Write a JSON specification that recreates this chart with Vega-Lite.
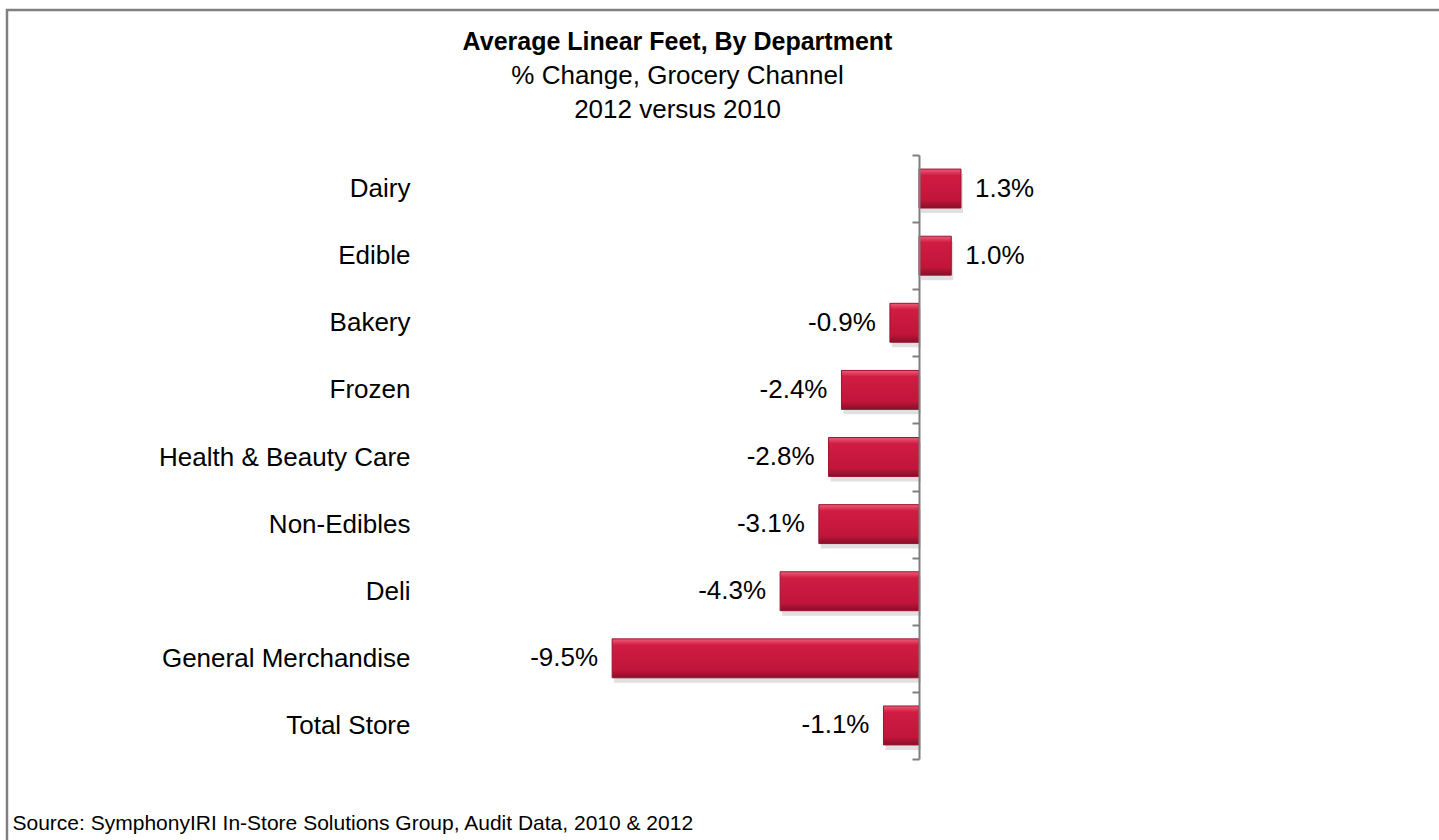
{
  "$schema": "https://vega.github.io/schema/vega-lite/v6.json",
  "width": 1445,
  "height": 845,
  "autosize": {"type": "none"},
  "padding": {"left": 7, "top": 10, "right": 0, "bottom": 0},
  "background": "white",
  "config": {
    "font": "Liberation Sans",
    "view": {"stroke": "#808080", "strokeWidth": 2.5},
    "locale": {"number": {"decimal": ".", "thousands": ",", "grouping": [3], "currency": ["$", ""], "minus": "-"}}
  },
  "title": {
    "text": "Average Linear Feet, By Department",
    "subtitle": ["% Change, Grocery Channel", "2012 versus 2010"],
    "anchor": "middle",
    "frame": "group",
    "orient": "top",
    "offset": -126,
    "dx": -52,
    "font": "Liberation Sans",
    "fontSize": 25,
    "fontWeight": "bold",
    "color": "black",
    "subtitleFont": "Liberation Sans",
    "subtitleFontSize": 26,
    "subtitleColor": "black",
    "subtitlePadding": 8,
    "subtitleLineHeight": 34
  },
  "data": {
    "values": [
      {"dept": "Dairy", "change": 0.013},
      {"dept": "Edible", "change": 0.010},
      {"dept": "Bakery", "change": -0.009},
      {"dept": "Frozen", "change": -0.024},
      {"dept": "Health & Beauty Care", "change": -0.028},
      {"dept": "Non-Edibles", "change": -0.031},
      {"dept": "Deli", "change": -0.043},
      {"dept": "General Merchandise", "change": -0.095},
      {"dept": "Total Store", "change": -0.011}
    ]
  },
  "encoding": {
    "y": {
      "field": "dept",
      "type": "nominal",
      "sort": null,
      "scale": {"range": [145, 749], "paddingInner": 0, "paddingOuter": 0},
      "axis": {
        "orient": "left",
        "offset": -912,
        "zindex": 1,
        "title": null,
        "domainColor": "#7f7f7f",
        "domainWidth": 2,
        "tickColor": "#7f7f7f",
        "tickWidth": 2,
        "tickSize": 7,
        "tickBand": "extent",
        "labelPadding": 502,
        "labelLimit": 0,
        "labelFontSize": 26,
        "labelFont": "Liberation Sans",
        "labelColor": "black",
        "grid": false
      }
    },
    "x": {
      "field": "change",
      "type": "quantitative",
      "scale": {"domain": [-0.28235, 0.16502], "nice": false, "zero": false},
      "axis": {
        "orient": "bottom",
        "title": "Source:  SymphonyIRI In-Store Solutions Group, Audit Data, 2010 & 2012",
        "titleAnchor": "start",
        "titleAlign": "left",
        "titleBaseline": "alphabetic",
        "titleX": 5,
        "titleY": -26,
        "titleFont": "Liberation Sans",
        "titleFontSize": 21,
        "titleFontWeight": "normal",
        "titleColor": "black",
        "labels": false,
        "ticks": false,
        "domain": false,
        "grid": false
      }
    }
  },
  "layer": [
    {
      "mark": {"type": "bar", "color": "#000000", "opacity": 0.12, "yOffset": 5, "xOffset": 2, "height": {"band": 0.58}}
    },
    {
      "mark": {
        "type": "bar",
        "height": {"band": 0.58},
        "stroke": "#9c1230",
        "strokeWidth": 1,
        "color": {
          "gradient": "linear",
          "x1": 0, "y1": 0, "x2": 0, "y2": 1,
          "stops": [
            {"offset": 0, "color": "#ee5c78"},
            {"offset": 0.16, "color": "#d01c43"},
            {"offset": 0.8, "color": "#c1153a"},
            {"offset": 1, "color": "#861028"}
          ]
        }
      }
    },
    {
      "transform": [{"filter": "datum.change > 0"}],
      "mark": {"type": "text", "align": "left", "baseline": "middle", "dx": 14, "fontSize": 26, "font": "Liberation Sans", "color": "black"},
      "encoding": {"text": {"field": "change", "type": "quantitative", "format": ".1%"}}
    },
    {
      "transform": [{"filter": "datum.change < 0"}],
      "mark": {"type": "text", "align": "right", "baseline": "middle", "dx": -14, "fontSize": 26, "font": "Liberation Sans", "color": "black"},
      "encoding": {"text": {"field": "change", "type": "quantitative", "format": ".1%"}}
    }
  ]
}
